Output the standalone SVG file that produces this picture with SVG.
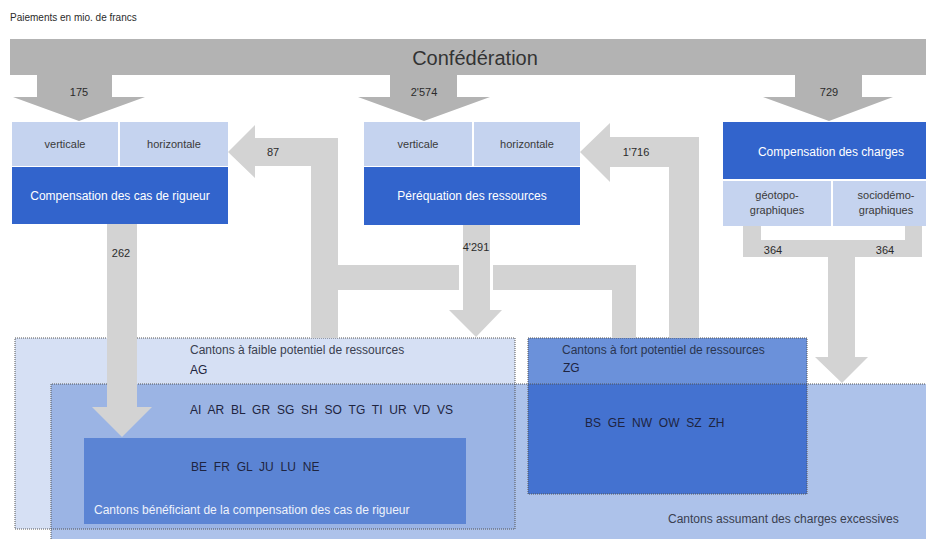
<svg xmlns="http://www.w3.org/2000/svg" width="926" height="539" viewBox="0 0 926 539">
<style>
text{font-family:"Liberation Sans",Arial,sans-serif;fill:#2b2b2b}
.num{font-size:11px;text-anchor:middle}
.sub{font-size:11px;text-anchor:middle;fill:#3a3a3a}
.main{font-size:12px;text-anchor:middle;fill:#ffffff}
.lt{fill:#c5d3ef}
.dk{fill:#3264cc}
.flow{fill:#d3d3d3}
.fed{fill:#b3b3b3}
.dot{fill:none;stroke:#555;stroke-width:1;stroke-dasharray:1 1}
.grp{font-size:12px;fill:#3a4050}
.codes{font-size:12px;word-spacing:3.5px;fill:#1e2440}
</style>
<rect width="926" height="539" fill="#ffffff"/>
<text x="10" y="21" style="font-size:10px">Paiements en mio. de francs</text>

<!-- cantons areas -->
<g id="cantons-charges">
<rect x="51" y="384" width="875" height="160" fill="#adc2ea"/>
<path class="dot" d="M51,539 V384 H926"/>
<text x="668" y="523" class="grp">Cantons assumant des charges excessives</text>
</g>
<g id="cantons-faible">
<rect x="15" y="338" width="500" height="191" fill="#d6e0f4"/>
<rect x="51" y="384" width="464" height="145" fill="#9bb4e4"/>
<rect x="15" y="338" width="500" height="191" class="dot"/>
<path class="dot" d="M51,529 V384 H515"/>
<text x="190" y="354" class="grp">Cantons à faible potentiel de ressources</text>
<text x="190" y="374" style="font-size:12px;fill:#1e2440">AG</text>
<text x="190" y="414" class="codes">AI AR BL GR SG SH SO TG TI UR VD VS</text>
</g>
<g id="cantons-rigueur">
<rect x="84" y="438" width="382" height="86" fill="#5b84d4"/>
<text x="191" y="471" class="codes">BE FR GL JU LU NE</text>
<text x="94" y="514" style="font-size:12px;fill:#eef2fb">Cantons bénéficiant de la compensation des cas de rigueur</text>
</g>
<g id="cantons-fort">
<rect x="528" y="338" width="279" height="46" fill="#6b91da"/>
<rect x="528" y="384" width="279" height="110" fill="#4472d0"/>
<rect x="528" y="338" width="279" height="156" class="dot"/>
<path class="dot" d="M528,384 H807"/>
<text x="562" y="354" class="grp" style="fill:#2a3550">Cantons à fort potentiel de ressources</text>
<text x="563" y="372" style="font-size:12px;fill:#1e2440">ZG</text>
<text x="585" y="427" class="codes">BS GE NW OW SZ ZH</text>
</g>

<!-- connectors -->
<g id="connectors">
<polygon class="flow" points="228,152 255,125 255,138 338,138 338,265 459,265 459,290 338,290 338,338 311,338 311,166 255,166 255,178"/>
<polygon class="flow" points="493,265 636,265 636,338 612,338 612,290 493,290"/>
<polygon class="flow" points="580,152 610,123 610,137 699,137 699,338 669,338 669,167 610,167 610,182"/>
<polygon class="flow" points="107,224 137,224 137,407 152,407 122,437 92,407 107,407"/>
<polygon class="flow" points="463,225 490,225 490,310 502,310 476,337 449,310 463,310"/>
<polygon class="flow" points="743,226 761,226 761,240 905,240 905,226 922,226 922,257 855,257 855,357 868,357 842,383 815,357 828,357 828,257 743,257"/>
<polygon class="fed" points="37,74 112,74 112,97 145,97 79,121 13,97 37,97"/>
<polygon class="fed" points="390,74 457,74 457,97 490,97 424,121 358,97 390,97"/>
<polygon class="fed" points="795,74 862,74 862,97 893,97 829,121 763,97 795,97"/>
<text x="79" y="96" class="num">175</text>
<text x="424" y="96" class="num">2'574</text>
<text x="829" y="96" class="num">729</text>
<text x="273" y="156" class="num">87</text>
<text x="636" y="156" class="num">1'716</text>
<text x="121" y="257" class="num">262</text>
<text x="476" y="251" class="num">4'291</text>
<text x="773" y="254" class="num">364</text>
<text x="885" y="254" class="num">364</text>
</g>

<g id="confederation">
<rect x="10" y="39" width="916" height="36" class="fed"/>
<text x="475" y="65" style="font-size:20px;text-anchor:middle;fill:#333">Confédération</text>
</g>

<g id="compensation-rigueur">
<rect x="12" y="122" width="106" height="44" class="lt"/>
<rect x="120" y="122" width="108" height="44" class="lt"/>
<rect x="12" y="167" width="216" height="57" class="dk"/>
<text x="65" y="148" class="sub">verticale</text>
<text x="174" y="148" class="sub">horizontale</text>
<text x="120" y="200" class="main">Compensation des cas de rigueur</text>
</g>

<g id="perequation-ressources">
<rect x="364" y="122" width="108" height="44" class="lt"/>
<rect x="474" y="122" width="106" height="44" class="lt"/>
<rect x="364" y="167" width="216" height="58" class="dk"/>
<text x="418" y="148" class="sub">verticale</text>
<text x="527" y="148" class="sub">horizontale</text>
<text x="472" y="200" class="main">Péréquation des ressources</text>
</g>

<g id="compensation-charges">
<rect x="723" y="122" width="203" height="57" class="dk"/>
<rect x="723" y="181" width="108" height="45" class="lt"/>
<rect x="833" y="181" width="93" height="45" class="lt"/>
<text x="831" y="156" class="main">Compensation des charges</text>
<text x="777" y="199" class="sub">géotopo-</text>
<text x="777" y="214" class="sub">graphiques</text>
<text x="886" y="199" class="sub">sociodémo-</text>
<text x="886" y="214" class="sub">graphiques</text>
</g>
</svg>
